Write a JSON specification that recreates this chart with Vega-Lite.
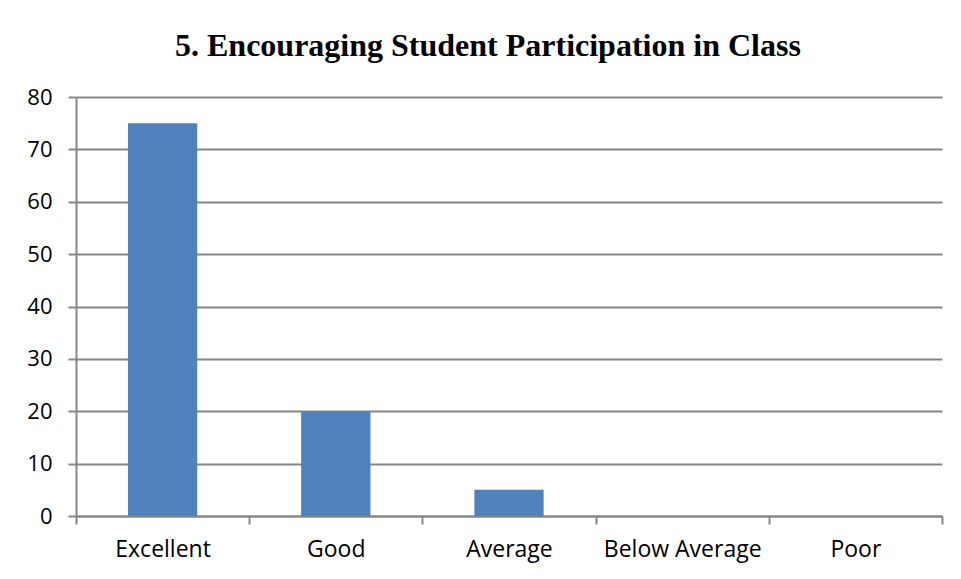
{
  "$schema": "https://vega.github.io/schema/vega-lite/v6.json",
  "width": 866,
  "height": 419,
  "autosize": {"type": "none"},
  "padding": {"left": 76, "top": 97, "right": 19, "bottom": 63},
  "background": "white",
  "title": {
    "text": "5. Encouraging Student Participation in Class",
    "font": "Liberation Serif",
    "fontSize": 32,
    "fontWeight": "bold",
    "color": "black",
    "anchor": "middle",
    "frame": "bounds",
    "baseline": "alphabetic",
    "offset": -2,
    "dx": 3
  },
  "data": {
    "values": [
      {"rating": "Excellent", "count": 75},
      {"rating": "Good", "count": 20},
      {"rating": "Average", "count": 5},
      {"rating": "Below Average", "count": 0},
      {"rating": "Poor", "count": 0}
    ]
  },
  "mark": {"type": "bar", "color": "#4F81BD", "width": {"band": 0.4}},
  "encoding": {
    "x": {
      "field": "rating",
      "type": "nominal",
      "sort": null,
      "scale": {"paddingInner": 0, "paddingOuter": 0},
      "axis": {
        "title": null,
        "labelAngle": 0,
        "labelFont": "Open Sans",
        "labelFontSize": 23,
        "labelColor": "black",
        "labelPadding": 14,
        "tickBand": "extent",
        "tickSize": 8,
        "tickColor": "#868686",
        "tickWidth": 2,
        "domainColor": "#868686",
        "domainWidth": 2,
        "grid": false
      }
    },
    "y": {
      "field": "count",
      "type": "quantitative",
      "scale": {"domain": [0, 80]},
      "axis": {
        "title": null,
        "values": [0, 10, 20, 30, 40, 50, 60, 70, 80],
        "labelFont": "Open Sans",
        "labelFontSize": 22,
        "labelColor": "black",
        "labelPadding": 16,
        "tickSize": 8,
        "tickColor": "#868686",
        "tickWidth": 2,
        "domainColor": "#868686",
        "domainWidth": 2,
        "gridColor": "#868686",
        "gridWidth": 2,
        "gridOpacity": 1
      }
    }
  },
  "config": {"view": {"stroke": null}}
}
